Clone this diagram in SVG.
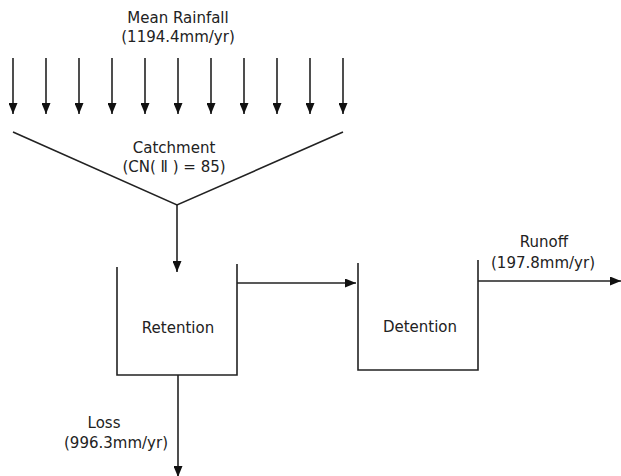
<svg xmlns="http://www.w3.org/2000/svg" width="621" height="476" viewBox="0 0 621 476">
<style>
.t{font-family:"DejaVu Sans","Liberation Sans",sans-serif;font-size:15px;fill:#222;text-anchor:middle}
.l{stroke:#222;stroke-width:1.6;fill:none}
</style>
<defs>
<marker id="ah" viewBox="0 0 11 9" refX="11" refY="4.5" markerWidth="11" markerHeight="9" markerUnits="userSpaceOnUse" orient="auto">
<path d="M0,0 L11,4.5 L0,9 Z" fill="#111"/>
</marker>
</defs>
<rect width="621" height="476" fill="#fff"/>
<g id="rainfall">
<text class="t" x="178" y="23">Mean Rainfall</text>
<text class="t" x="178" y="42">(1194.4mm/yr)</text>
<g class="l" marker-end="url(#ah)">
<line x1="13" y1="58" x2="13" y2="114"/>
<line x1="46" y1="58" x2="46" y2="114"/>
<line x1="79" y1="58" x2="79" y2="114"/>
<line x1="112" y1="58" x2="112" y2="114"/>
<line x1="145" y1="58" x2="145" y2="114"/>
<line x1="178" y1="58" x2="178" y2="114"/>
<line x1="211" y1="58" x2="211" y2="114"/>
<line x1="244" y1="58" x2="244" y2="114"/>
<line x1="277" y1="58" x2="277" y2="114"/>
<line x1="310" y1="58" x2="310" y2="114"/>
<line x1="343" y1="58" x2="343" y2="114"/>
</g>
</g>
<g id="catchment">
<polyline class="l" points="13,132 177,205 343,132"/>
<text class="t" x="174" y="153">Catchment</text>
<text class="t" x="174" y="172">(CN( Ⅱ ) = 85)</text>
</g>
<g id="retention">
<polyline class="l" points="117,267 117,375 237,375 237,264"/>
<text class="t" x="178" y="333">Retention</text>
</g>
<g id="detention">
<polyline class="l" points="358,263 358,370 478,370 478,260"/>
<text class="t" x="420" y="332">Detention</text>
</g>
<g id="connectors">
<line class="l" x1="177" y1="205" x2="177" y2="272" marker-end="url(#ah)"/>
<line class="l" x1="237" y1="283" x2="356" y2="283" marker-end="url(#ah)"/>
<line class="l" x1="478" y1="281" x2="621" y2="281" marker-end="url(#ah)"/>
<line class="l" x1="178" y1="375" x2="178" y2="477" marker-end="url(#ah)"/>
</g>
<g id="labels">
<text class="t" x="544" y="247">Runoff</text>
<text class="t" x="543" y="268">(197.8mm/yr)</text>
<text class="t" x="104" y="428">Loss</text>
<text class="t" x="116" y="448">(996.3mm/yr)</text>
</g>
</svg>
